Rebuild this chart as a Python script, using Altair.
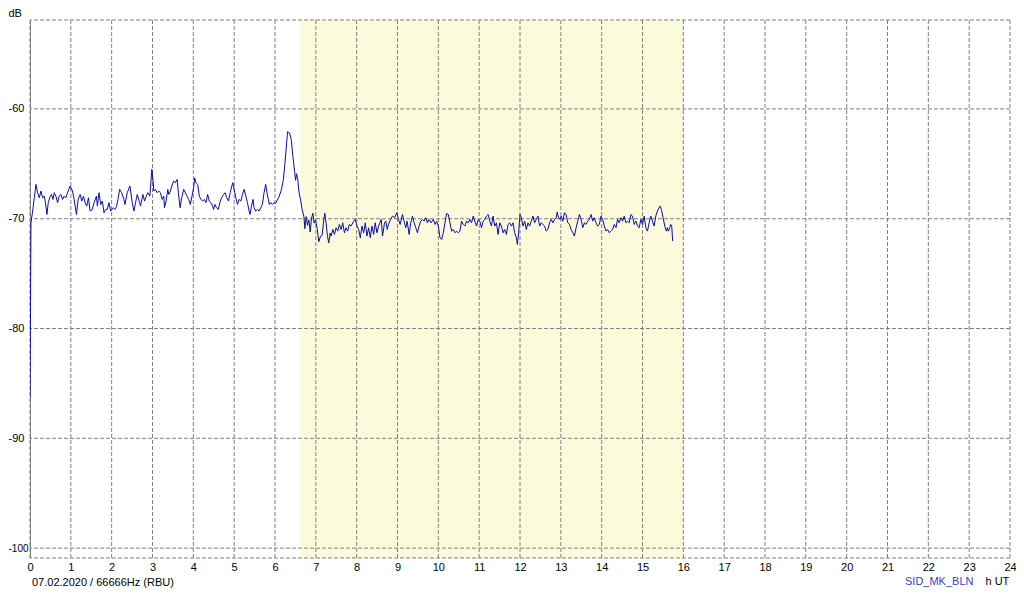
import altair as alt
import pandas as pd

# time of day (h UT) and received signal level (dB)
hours = [
    0.0, 0.024, 0.065, 0.106, 0.146, 0.187, 0.228, 0.268, 0.309, 0.35, 0.39, 0.415, 0.447, 0.496,
    0.528, 0.561, 0.593, 0.634, 0.675, 0.715, 0.756, 0.797, 0.837, 0.878, 0.919, 0.984, 1.041,
    1.081, 1.138, 1.179, 1.228, 1.268, 1.309, 1.35, 1.39, 1.431, 1.472, 1.528, 1.569, 1.626, 1.65,
    1.691, 1.732, 1.772, 1.813, 1.854, 1.894, 1.935, 1.976, 2.04, 2.081, 2.122, 2.154, 2.195,
    2.244, 2.3, 2.325, 2.382, 2.447, 2.504, 2.545, 2.585, 2.626, 2.675, 2.707, 2.764, 2.805,
    2.846, 2.886, 2.935, 2.984, 3.008, 3.033, 3.073, 3.114, 3.154, 3.195, 3.236, 3.276,
    3.293, 3.333, 3.374, 3.398, 3.439, 3.472, 3.52, 3.561, 3.602, 3.634, 3.675, 3.715, 3.764,
    3.805, 3.846, 3.886, 3.927, 3.967, 4.008, 4.033, 4.065, 4.106, 4.146, 4.187, 4.228, 4.268,
    4.309, 4.35, 4.39, 4.431, 4.472, 4.496, 4.528, 4.569, 4.61, 4.65, 4.691, 4.74, 4.78, 4.821,
    4.862, 4.902, 4.943, 4.967, 5.0, 5.041, 5.081, 5.122, 5.163, 5.203, 5.244, 5.285, 5.325,
    5.366, 5.39, 5.423, 5.463, 5.488, 5.528, 5.569, 5.61, 5.65, 5.691, 5.732, 5.772, 5.797,
    5.829, 5.862, 5.894, 5.935, 5.976,
    6.016, 6.098, 6.154, 6.203, 6.244, 6.285, 6.309, 6.358, 6.398, 6.439, 6.48, 6.504, 6.528,
    6.561, 6.585, 6.626, 6.667, 6.707, 6.732, 6.764, 6.797, 6.829, 6.862, 6.894, 6.927, 6.959,
    6.992, 7.033, 7.073, 7.114, 7.154, 7.195, 7.22, 7.252, 7.285, 7.317, 7.35,
    7.374, 7.415, 7.455, 7.496, 7.537, 7.577, 7.618, 7.659, 7.699, 7.74, 7.78, 7.821, 7.862,
    7.927, 7.967, 8.008, 8.049, 8.089, 8.13, 8.171, 8.211, 8.252, 8.293, 8.333, 8.374, 8.415,
    8.455, 8.496, 8.537, 8.602, 8.634, 8.683, 8.715, 8.748, 8.78, 8.829, 8.878, 8.927, 8.984,
    9.024, 9.065, 9.122, 9.171, 9.203, 9.236, 9.285, 9.325, 9.366, 9.407, 9.447, 9.488, 9.528,
    9.569, 9.61, 9.65, 9.691, 9.732, 9.772, 9.821, 9.878, 9.919, 9.959,
    10.0, 10.041, 10.081, 10.122, 10.163, 10.203, 10.244, 10.285, 10.325, 10.366, 10.407,
    10.447, 10.488, 10.528, 10.569, 10.61, 10.65, 10.691, 10.732, 10.772, 10.813, 10.854,
    10.894, 10.935, 10.976, 11.016, 11.057, 11.098, 11.138, 11.179, 11.22, 11.26, 11.301,
    11.341, 11.382, 11.423, 11.463, 11.504, 11.545, 11.585, 11.626, 11.667, 11.707, 11.748,
    11.789, 11.829, 11.87, 11.911, 11.935, 11.967, 12.0, 12.033, 12.073, 12.114, 12.154,
    12.195, 12.236, 12.276, 12.317, 12.358, 12.398, 12.439, 12.48, 12.52, 12.561, 12.602,
    12.642, 12.683, 12.724, 12.764, 12.805, 12.846, 12.886, 12.911, 12.943, 12.984,
    13.008, 13.049, 13.089, 13.13, 13.171, 13.211, 13.252, 13.293, 13.333, 13.374, 13.415,
    13.455, 13.496, 13.537, 13.577, 13.618, 13.659, 13.699, 13.74, 13.78, 13.821, 13.862,
    13.902, 13.943, 13.984, 14.024, 14.065, 14.106, 14.146, 14.187, 14.228, 14.268, 14.309,
    14.35, 14.39, 14.431, 14.472, 14.512, 14.553, 14.593, 14.634, 14.675, 14.715, 14.756,
    14.797, 14.837, 14.878, 14.919, 14.959, 15.0, 15.041, 15.081, 15.122, 15.163, 15.203,
    15.244, 15.285, 15.325, 15.366, 15.407, 15.431, 15.463, 15.504, 15.545, 15.585, 15.61,
    15.634, 15.667, 15.691, 15.715, 15.74,
]
db = [
    -86.3, -70.37, -69.3, -68.09, -66.87, -67.63, -68.09, -67.48, -68.09, -67.94, -68.85, -69.61, -68.54, -67.94,
    -67.79, -68.24, -67.63, -67.94, -68.54, -67.94, -67.79, -68.24, -67.94, -68.09, -67.63, -67.02, -67.48,
    -68.24, -69.61, -68.24, -67.79, -68.39, -67.94, -68.54, -68.85, -68.09, -69.3, -69.15, -68.54, -67.94, -68.85,
    -67.63, -68.7, -68.39, -69.46, -69.15, -69.15, -68.54, -69.3, -69.0, -69.15, -68.85, -68.24, -67.33,
    -67.63, -68.24, -68.7, -67.63, -67.02, -68.54, -69.3, -68.54, -67.79, -68.39, -68.85, -67.79, -68.39,
    -67.94, -67.63, -67.94, -65.51, -66.27, -67.48, -67.33, -67.63, -67.48, -67.63, -68.24, -67.94,
    -69.0, -68.39, -67.33, -67.79, -67.48, -67.02, -66.57, -66.72, -66.42, -67.63, -69.0, -68.09, -67.33,
    -67.63, -67.94, -68.24, -68.7, -67.94, -67.18, -66.27, -66.72, -66.87, -67.94, -68.24, -68.39, -68.24,
    -68.54, -67.79, -68.39, -68.54, -68.85, -69.15, -68.7, -69.0, -69.15, -68.54, -68.09, -67.79, -67.63, -68.09,
    -68.39, -67.63, -67.02, -66.72, -67.33, -68.09, -68.7, -68.24, -68.39, -67.79, -67.33, -67.94, -68.54,
    -69.3, -69.61, -68.85, -68.24, -69.0, -69.3, -69.15, -69.3, -69.0, -68.7, -67.63, -66.87, -67.48,
    -68.09, -68.7, -68.54, -68.7, -68.54,
    -68.6, -68.0, -67.4, -66.5, -64.95, -63.1, -62.07, -62.2, -62.8, -64.35, -65.7, -66.5, -65.9,
    -66.5, -67.5, -68.3, -69.2, -69.8, -70.9, -69.8, -70.6, -70.1, -71.2, -69.96, -69.5, -70.4,
    -70.1, -70.9, -72.1, -71.6, -71.5, -70.1, -69.5, -70.4, -71.6, -72.2, -71.3,
    -71.58, -70.98, -71.43, -70.82, -71.13, -70.52, -70.98, -70.37, -71.28, -70.82, -71.13, -70.52, -70.67,
    -70.22, -70.06, -70.67, -70.98, -71.74, -70.67, -71.28, -70.37, -71.58, -70.82, -71.74, -70.67, -71.43,
    -70.37, -71.28, -70.67, -70.06, -71.58, -70.37, -70.22, -70.98, -70.52, -70.06, -69.76, -69.91, -69.46,
    -70.06, -70.52, -69.61, -70.37, -70.82, -70.22, -71.43, -70.37, -69.76, -70.37, -70.82, -71.28, -70.67,
    -70.22, -70.06, -70.22, -69.91, -70.37, -70.06, -70.37, -70.06, -70.52, -70.22,
    -70.67, -71.74, -71.89, -71.28, -70.37, -69.52, -69.61, -70.37, -71.13, -70.98, -71.28,
    -71.13, -71.28, -71.13, -70.22, -70.52, -70.67, -70.22, -70.37, -70.06, -70.37, -69.76,
    -70.22, -70.67, -70.06, -70.22, -70.82, -70.22, -70.06, -69.76, -69.61, -70.22, -70.67,
    -69.76, -70.67, -70.37, -71.43, -70.37, -70.67, -71.28, -70.98, -71.43, -70.52, -70.37,
    -70.67, -70.37, -71.28, -71.74, -72.34, -71.28, -69.61, -69.91, -70.67, -70.22, -70.98,
    -70.37, -70.67, -70.22, -69.76, -70.37, -70.06, -69.76, -70.67, -70.37, -70.52, -70.67,
    -71.13, -70.98, -70.37, -70.06, -70.37, -70.06, -69.91, -69.4, -69.91, -70.06,
    -69.76, -70.22, -69.46, -69.61, -70.37, -70.52, -70.98, -71.28, -71.58, -70.82, -70.22,
    -69.61, -70.06, -70.82, -70.37, -70.52, -70.22, -70.06, -69.61, -70.22, -69.91, -70.37,
    -70.67, -70.52, -69.76, -70.06, -70.67, -71.13, -70.98, -71.28, -71.13, -70.98, -70.52,
    -70.82, -70.06, -70.37, -69.91, -70.22, -69.76, -70.37, -70.22, -70.37, -69.61, -69.76,
    -70.52, -70.22, -70.67, -70.82, -70.06, -70.52, -69.76, -70.82, -71.13, -70.37, -69.76,
    -70.22, -70.67, -69.76, -69.3, -69.0, -68.85, -69.15, -69.91, -70.67, -71.13, -70.82,
    -71.13, -70.82, -70.52, -70.67, -72.04,
]

# daylight period (shaded)
day_start = [6.62]
day_end = [15.98]

x_ticks = list(range(0, 25))
y_ticks = [-60, -70, -80, -90, -100]
y_low, y_high = -100.9, -51.9
y_edges = y_ticks + [y_low, y_high]

FONT = "Liberation Sans"
GRID = "#808080"

df = pd.DataFrame({"h": hours, "db": db})
xs = alt.Scale(domain=[0, 24], nice=False, zero=False)
ys = alt.Scale(domain=[y_low, y_high], nice=False, zero=False)

x_axis = alt.Axis(
    values=x_ticks, format="d", grid=False, domain=False, ticks=False,
    labelPadding=3, labelFont=FONT, labelFontSize=11, labelColor="#000000",
    labelFlush=False, labelOverlap=False,
    title="h UT", titleFont=FONT, titleFontSize=11, titleFontWeight="normal",
    titleColor="#000000", titleAnchor="start", titleAlign="left", titleX=955, titleY=23,
    titleBaseline="middle")
y_axis = alt.Axis(
    values=y_ticks, grid=False, domain=True, domainColor=GRID, domainWidth=1, ticks=False,
    labelPadding=22, labelAlign="left", labelFont=FONT,
    labelExpr="'-' + toString(abs(datum.value))",
    labelFontSize={"condition": {"test": "datum.value < -95", "value": 10}, "value": 11},
    labelColor="#000000", labelFlush=False, labelOverlap=False,
    title="dB", titleFont=FONT, titleFontSize=11, titleFontWeight="normal",
    titleColor="#000000", titleAngle=0, titleAlign="left", titleBaseline="middle",
    titleX=-22, titleY=-7)

shade = alt.Chart(pd.DataFrame({"a": day_start, "b": day_end})).mark_rect(
    color="#FBFBDC"
).encode(
    x=alt.X("a:Q", scale=xs, axis=x_axis),
    x2="b:Q",
    y=alt.Y("lo:Q", scale=ys, axis=y_axis),
    y2="hi:Q",
).transform_calculate(lo=str(y_low), hi=str(y_high))

vgrid = alt.Chart(pd.DataFrame({"h": x_ticks})).mark_rule(
    color=GRID, strokeDash=[4, 2], strokeWidth=1
).encode(x=alt.X("h:Q", scale=xs, axis=x_axis))

hgrid = alt.Chart(pd.DataFrame({"v": y_edges})).mark_rule(
    color=GRID, strokeDash=[4, 2], strokeWidth=1
).encode(y=alt.Y("v:Q", scale=ys, axis=y_axis))

line = alt.Chart(df).mark_line(color="#0c0ca4", strokeWidth=1, clip=True).encode(
    x=alt.X("h:Q", scale=xs, axis=x_axis),
    y=alt.Y("db:Q", scale=ys, axis=y_axis),
    order="h:Q",
)

date_label = alt.Chart(pd.DataFrame({"t": ["07.02.2020 / 66666Hz (RBU)"]})).mark_text(
    align="left", baseline="middle", font=FONT, fontSize=11, color="#000000"
).encode(text="t:N", x=alt.value(2), y=alt.value(563))

station_label = alt.Chart(pd.DataFrame({"t": ["SID_MK_BLN"]})).mark_text(
    align="left", baseline="middle", font=FONT, fontSize=11, color="#3c3cc8"
).encode(text="t:N", x=alt.value(875), y=alt.value(562))

chart = alt.layer(shade, vgrid, hgrid, line, date_label, station_label).properties(
    width=980, height=538,
    autosize=alt.AutoSizeParams(type="none"),
    padding={"left": 22, "top": 12, "right": 6, "bottom": 32},
    background="#ffffff",
).configure_view(stroke=None)

chart.save("out.html", embed_options={"renderer": "svg", "actions": False})
